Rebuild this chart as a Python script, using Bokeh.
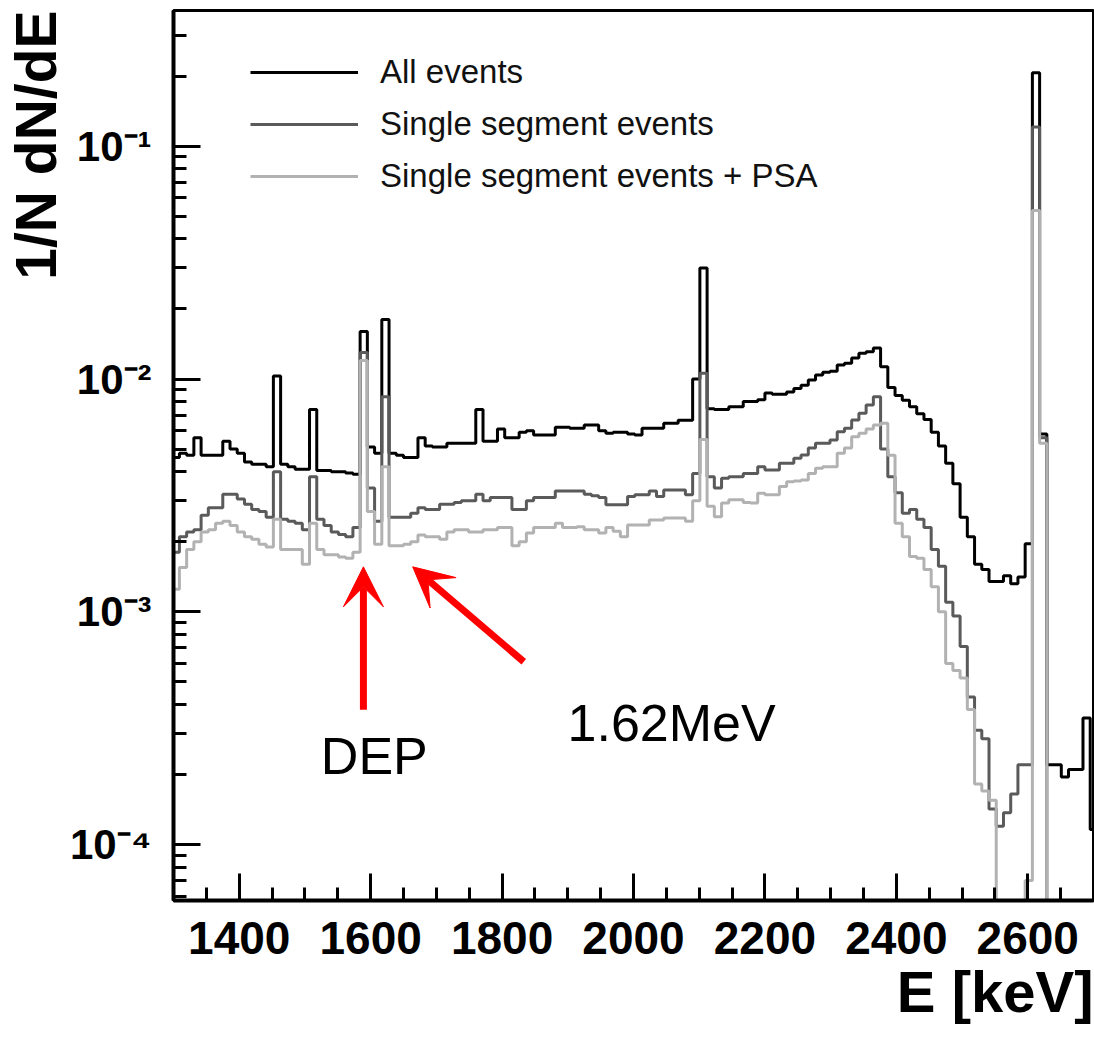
import numpy as np
from bokeh.plotting import figure
from bokeh.models import (Range1d, FixedTicker, CustomJSTickFormatter, Legend, LegendItem,
                          Title, Arrow, VeeHead, Label)
from bokeh.embed import file_html
from bokeh.resources import INLINE

# ---------------- data (histograms, 11 keV bins starting at 1298 keV) ----------------
BIN_START = 1298.0
BIN_WIDTH = 11.0

all_events = [
    4.6e-3, 4.8e-3, 4.7e-3, 5.6e-3, 4.7e-3, 4.7e-3, 4.7e-3, 5.4e-3, 5.0e-3, 4.8e-3,
    4.4e-3, 4.3e-3, 4.3e-3, 4.2e-3, 1.03e-2, 4.3e-3, 4.2e-3, 4.1e-3, 4.1e-3, 7.4e-3,
    4.05e-3, 4.05e-3, 4.0e-3, 4.0e-3, 3.95e-3, 3.9e-3, 1.6e-2, 5.1e-3, 4.8e-3, 1.8e-2,
    4.8e-3, 4.7e-3, 4.6e-3, 4.6e-3, 5.6e-3, 5.15e-3, 5.1e-3, 5.1e-3, 5.3e-3, 5.3e-3,
    5.3e-3, 5.3e-3, 7.4e-3, 5.4e-3, 5.4e-3, 6.1e-3, 5.6e-3, 5.6e-3, 5.9e-3, 6.0e-3,
    5.75e-3, 5.75e-3, 5.75e-3, 6.2e-3, 6.2e-3, 6.15e-3, 6.15e-3, 6.35e-3, 6.35e-3, 6.0e-3,
    5.85e-3, 5.9e-3, 5.9e-3, 5.8e-3, 5.75e-3, 6.15e-3, 6.15e-3, 6.15e-3, 6.45e-3, 6.45e-3,
    6.65e-3, 6.65e-3, 1.0e-2, 3.0e-2, 7.45e-3, 7.4e-3, 7.4e-3, 7.6e-3, 7.6e-3, 8.0e-3,
    8.0e-3, 8.15e-3, 8.7e-3, 8.6e-3, 8.6e-3, 8.8e-3, 9.1e-3, 9.4e-3, 9.9e-3, 1.04e-2,
    1.07e-2, 1.08e-2, 1.15e-2, 1.17e-2, 1.23e-2, 1.29e-2, 1.31e-2, 1.36e-2, 1.13e-2, 9.2e-3,
    8.5e-3, 8.1e-3, 7.6e-3, 7.1e-3, 6.7e-3, 5.9e-3, 5.15e-3, 4.35e-3, 3.55e-3, 2.55e-3,
    2.1e-3, 1.6e-3, 1.52e-3, 1.35e-3, 1.35e-3, 1.43e-3, 1.32e-3, 1.41e-3, 1.96e-3, 2.07e-1,
    5.8e-3, 2.2e-4, 2.2e-4, 1.95e-4, 2.1e-4, 2.1e-4, 3.5e-4, 1.16e-4,
]

single_segment = [
    1.8e-3, 2.1e-3, 2.2e-3, 2.25e-3, 2.6e-3, 2.8e-3, 2.8e-3, 3.2e-3, 3.2e-3, 3.05e-3,
    2.9e-3, 2.75e-3, 2.7e-3, 2.55e-3, 4.0e-3, 2.5e-3, 2.45e-3, 2.4e-3, 2.25e-3, 3.8e-3,
    2.5e-3, 2.35e-3, 2.2e-3, 2.15e-3, 2.1e-3, 2.3e-3, 1.3e-2, 3.4e-3, 2.45e-3, 8.4e-3,
    2.55e-3, 2.55e-3, 2.55e-3, 2.65e-3, 2.8e-3, 2.75e-3, 2.75e-3, 2.9e-3, 2.9e-3, 2.95e-3,
    3.0e-3, 3.0e-3, 3.2e-3, 3.0e-3, 3.1e-3, 3.1e-3, 3.1e-3, 2.75e-3, 2.75e-3, 3.0e-3,
    3.1e-3, 3.1e-3, 3.1e-3, 3.3e-3, 3.3e-3, 3.3e-3, 3.3e-3, 3.2e-3, 3.15e-3, 3.1e-3,
    2.88e-3, 2.88e-3, 2.88e-3, 3.13e-3, 3.18e-3, 3.18e-3, 3.3e-3, 3.13e-3, 3.34e-3, 3.34e-3,
    3.34e-3, 3.18e-3, 3.93e-3, 1.06e-2, 3.8e-3, 3.4e-3, 3.75e-3, 3.8e-3, 3.8e-3, 3.93e-3,
    3.93e-3, 4.2e-3, 4.07e-3, 4.07e-3, 4.35e-3, 4.35e-3, 4.57e-3, 4.72e-3, 5.05e-3, 5.3e-3,
    5.3e-3, 5.47e-3, 5.94e-3, 6.14e-3, 6.67e-3, 7.13e-3, 7.73e-3, 8.4e-3, 5.0e-3, 3.8e-3,
    3.25e-3, 2.65e-3, 2.75e-3, 2.5e-3, 2.3e-3, 1.85e-3, 1.57e-3, 1.1e-3, 9.6e-4, 7.1e-4,
    4.3e-4, 3.1e-4, 2.85e-4, 1.42e-4, 1.2e-4, 1.37e-4, 1.65e-4, 2.2e-4, 2.2e-4, 1.21e-1,
    5.6e-3, 0, 0, 0, 0, 0, 0, 0,
]

single_segment_psa = [
    1.25e-3, 1.55e-3, 1.85e-3, 2.0e-3, 2.2e-3, 2.25e-3, 2.4e-3, 2.45e-3, 2.35e-3, 2.2e-3,
    2.1e-3, 2.05e-3, 1.95e-3, 1.9e-3, 2.5e-3, 1.85e-3, 1.85e-3, 1.85e-3, 1.6e-3, 2.4e-3,
    1.85e-3, 1.76e-3, 1.76e-3, 1.72e-3, 1.7e-3, 1.8e-3, 1.2e-2, 2.7e-3, 1.95e-3, 4.2e-3,
    1.92e-3, 1.92e-3, 1.95e-3, 2.0e-3, 2.14e-3, 2.1e-3, 2.1e-3, 2.05e-3, 2.2e-3, 2.25e-3,
    2.25e-3, 2.2e-3, 2.2e-3, 2.25e-3, 2.25e-3, 2.3e-3, 2.3e-3, 1.92e-3, 2.0e-3, 2.18e-3,
    2.3e-3, 2.3e-3, 2.3e-3, 2.4e-3, 2.3e-3, 2.3e-3, 2.32e-3, 2.25e-3, 2.25e-3, 2.18e-3,
    2.3e-3, 2.22e-3, 2.1e-3, 2.36e-3, 2.36e-3, 2.36e-3, 2.48e-3, 2.48e-3, 2.53e-3, 2.53e-3,
    2.53e-3, 2.45e-3, 3.0e-3, 5.5e-3, 2.84e-3, 2.56e-3, 2.93e-3, 3.03e-3, 3.03e-3, 2.95e-3,
    2.93e-3, 3.23e-3, 3.18e-3, 3.18e-3, 3.45e-3, 3.62e-3, 3.65e-3, 3.68e-3, 3.93e-3, 4.14e-3,
    4.2e-3, 4.2e-3, 4.8e-3, 5.05e-3, 5.65e-3, 5.85e-3, 6.1e-3, 6.35e-3, 6.45e-3, 4.7e-3,
    2.4e-3, 2.1e-3, 1.73e-3, 1.7e-3, 1.52e-3, 1.28e-3, 1.0e-3, 6.0e-4, 5.6e-4, 5.2e-4,
    3.8e-4, 1.82e-4, 1.7e-4, 1.55e-4, 0, 0, 0, 0, 7e-5, 5.3e-2,
    5.3e-3, 0, 0, 0, 0, 0, 0, 0,
]

series_labels = ["All events", "Single segment events", "Single segment events + PSA"]
x_ticks = [1400, 1600, 1800, 2000, 2200, 2400, 2600]
y_ticks = [1e-4, 1e-3, 1e-2, 1e-1]

# ---------------- annotation positions ----------------
DEP_ARROW = dict(x_start=1589, y_start=3.79e-4, x_end=1589, y_end=1.56e-3)
MEV_ARROW = dict(x_start=1833, y_start=6.1e-4, x_end=1664, y_end=1.56e-3)
DEP_TEXT = dict(x=1605.6, y=2.4e-4)
MEV_TEXT = dict(x=1899.6, y=3.32e-4)

FONT = "Liberation Sans"
FLOOR = 1e-9  # empty bins drawn below the visible range on the log axis

p = figure(width=1094, height=1046, y_axis_type="log",
           x_range=Range1d(1300, 2700), y_range=Range1d(5.75e-5, 0.383),
           output_backend="svg", toolbar_location=None,
           min_border_left=173, min_border_right=1, min_border_top=10, min_border_bottom=146)
p.background_fill_color = "white"
p.border_fill_color = "white"
p.xgrid.visible = False
p.ygrid.visible = False
p.outline_line_color = "black"
p.outline_line_width = 3

colors = ["#000000", "#5a5a5a", "#b2b2b2"]
renderers = []
for vals, col in zip([all_events, single_segment, single_segment_psa], colors):
    v = np.array(vals, dtype=float)
    v = np.where(v > 0, v, FLOOR)
    edges = BIN_START + BIN_WIDTH * np.arange(len(v) + 1)
    yv = np.append(v, v[-1])
    r = p.step(x=edges, y=yv, mode="after", line_color=col, line_width=3)
    renderers.append(r)

# axes
for ax in (p.xaxis[0], p.yaxis[0]):
    ax.axis_line_width = 4
    ax.axis_line_color = "black"
    ax.major_tick_in = 27
    ax.major_tick_out = 0
    ax.minor_tick_in = 13
    ax.minor_tick_out = 0
    ax.major_tick_line_width = 3
    ax.minor_tick_line_width = 3
    ax.major_label_text_font = FONT
    ax.major_label_text_font_style = "bold"
    ax.major_label_text_color = "black"

p.xaxis.ticker = FixedTicker(ticks=x_ticks, minor_ticks=list(range(1350, 2700, 50)))
p.xaxis.major_label_text_font_size = "46px"
p.xaxis.major_label_standoff = 21

minor_y = [m * 10.0 ** e for e in range(-5, 0) for m in range(2, 10)]
p.yaxis.ticker = FixedTicker(ticks=y_ticks, minor_ticks=minor_y)
p.yaxis.major_label_text_font_size = "42px"
p.yaxis.major_label_standoff = 22
p.yaxis.formatter = CustomJSTickFormatter(code="""
const e = Math.round(Math.log10(tick));
const sup = {"-": "\u207b", "0": "\u2070", "1": "\u00b9", "2": "\u00b2", "3": "\u00b3",
             "4": "\u2074", "5": "\u2075", "6": "\u2076", "7": "\u2077", "8": "\u2078", "9": "\u2079"};
return "10" + String(e).split("").map(c => sup[c]).join("");
""")

# axis titles (right / top aligned like ROOT)
p.add_layout(Title(text="E [keV]", align="right", text_font=FONT, text_font_size="58px",
                   text_font_style="bold", text_color="black", standoff=0), "below")
p.add_layout(Title(text="1/N dN/dE", align="right", text_font=FONT, text_font_size="57px",
                   text_font_style="bold", text_color="black", standoff=0), "left")

# legend (location = bottom-left corner of the legend box, frame pixels)
legend = Legend(items=[LegendItem(label=lab, renderers=[r]) for lab, r in zip(series_labels, renderers)],
                location=(77, 704), border_line_color=None, background_fill_alpha=0,
                glyph_width=108, glyph_height=40, label_height=40, label_standoff=22,
                spacing=12, padding=0, margin=0,
                label_text_font=FONT, label_text_font_size="33px", label_text_color="#111111")
p.add_layout(legend)

# red arrows and labels
for a in (DEP_ARROW, MEV_ARROW):
    p.add_layout(Arrow(end=VeeHead(size=40, fill_color="red", line_color="red", line_width=1),
                       line_color="red", line_width=7, **a))
p.add_layout(Label(text="DEP", text_align="center", text_baseline="alphabetic",
                   text_font=FONT, text_font_size="52px", text_color="black", **DEP_TEXT))
p.add_layout(Label(text="1.62MeV", text_align="left", text_baseline="alphabetic",
                   text_font=FONT, text_font_size="52px", text_color="black", **MEV_TEXT))

open("out.html", "w").write(file_html(p, INLINE))
